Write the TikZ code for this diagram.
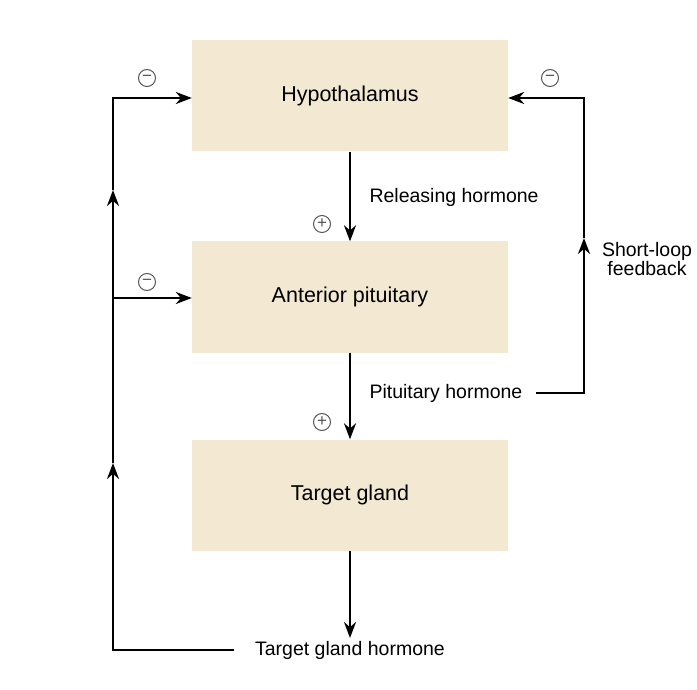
\documentclass[tikz,border=0pt]{standalone}
\usepackage{fontspec}
\setmainfont{Liberation Sans}
\usepackage{tikz}
\usetikzlibrary{arrows.meta}
\usetikzlibrary{positioning}
\definecolor{gland}{RGB}{243,233,211}
\definecolor{signgray}{RGB}{85,85,85}

\begin{document}
\begin{tikzpicture}[x=1pt,y=-1pt]
	\useasboundingbox (0,0) rectangle (697,690);
	\begin{scope}[every node/.style={fill=gland, minimum width=316pt, minimum height=111pt, inner sep=0pt, font=\fontsize{21.5}{26}\selectfont}]
		\node (H) at (350,96) {Hypothalamus};
		\node (A) at (350,297) {Anterior pituitary};
		\node (T) at (350,495) {Target gland};
	\end{scope}
	
	\begin{scope}[every node/.style={font=\fontsize{19.5}{19}\selectfont}]
		\node[anchor=west] (RH) at (366,197) {Releasing hormone};
		\node[anchor=west] (PH) at (366,393) {Pituitary hormone};
		\node[anchor=west] (TGH) at (251.6,650) {Target gland hormone};
		\node[align=center] (SL) at (647,259) {Short-loop\\feedback};
	\end{scope}
	
	\begin{scope}[every node/.style={circle, draw=signgray, line width=1pt, text=signgray, minimum size=17pt, inner sep=0pt, font=\fontsize{17}{17}\selectfont}]
		\node (m1) at (147,78) {−};
		\node (m2) at (147,282) {−};
		\node (m3) at (550,78) {−};
		\node (p1) at (322,224) {+};
		\node (p2) at (322,422) {+};
	\end{scope}
	
	\coordinate (HT) at (350,638);
	\coordinate (L1) at (113,463);
	\coordinate (L2) at (113,298);
	\coordinate (L3) at (113,190);
	\coordinate (LT) at (113,98);
	\coordinate (R1) at (584,238);
	\coordinate (RT) at (584,98);
	
	\begin{scope}[>={Stealth[length=16pt,width=12pt]}, line width=2.6pt]
		\draw[->] (H) -- (A);
		\draw[->] (A) -- (T);
		\draw[->] (T) -- (HT);
		\draw[->, shorten <=18pt] (TGH.west) -| (L1);
		\draw[->] (L1) -- (L3);
		\draw[->] (L3) -- (LT) -- (H.west |- LT);
		\draw[->] (L2) -- (A.west |- L2);
		\draw[->, shorten <=10pt] (PH.east) -| (R1);
		\draw[->] (R1) -- (RT) -- (H.east |- RT);
	\end{scope}
\end{tikzpicture}
\end{document}
